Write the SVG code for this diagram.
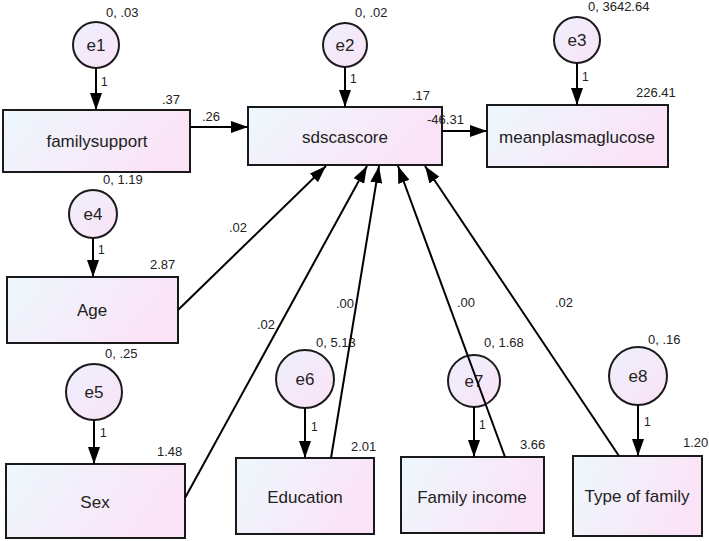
<svg xmlns="http://www.w3.org/2000/svg" width="709" height="541" viewBox="0 0 709 541">
<defs>
<linearGradient id="gb" x1="0" y1="0" x2="1" y2="0.3">
<stop offset="0" stop-color="#edf8fd"/>
<stop offset="1" stop-color="#fbe3f7"/>
</linearGradient>
<linearGradient id="gc" x1="0" y1="0" x2="1" y2="1">
<stop offset="0" stop-color="#eeeffd"/>
<stop offset="1" stop-color="#fae3f6"/>
</linearGradient>
<marker id="ah" markerUnits="userSpaceOnUse" markerWidth="18" markerHeight="12" refX="17" refY="6" orient="auto">
<path d="M0,0 L17,6 L0,12 Z" fill="#000"/>
</marker>
</defs>
<style>
.box{fill:url(#gb);stroke:#1a1a1a;stroke-width:2}
.cir{fill:url(#gc);stroke:#1a1a1a;stroke-width:2}
.lbl{font-family:"Liberation Sans",Arial,sans-serif;font-size:17px;fill:#222;text-anchor:middle}
.num{font-family:"Liberation Sans",Arial,sans-serif;font-size:13px;fill:#222}
.one{font-family:"Liberation Sans",Arial,sans-serif;font-size:12px;fill:#222}
.con line{stroke:#000;stroke-width:2;marker-end:url(#ah)}
</style>
<rect width="709" height="541" fill="#fff"/>

<g id="familysupport"><rect class="box" x="3" y="110" width="187" height="62"/><text class="lbl" x="97" y="147">familysupport</text><text class="num" x="162" y="104">.37</text></g>
<g id="sdscascore"><rect class="box" x="248" y="107" width="194" height="58"/><text class="lbl" x="345" y="143">sdscascore</text><text class="num" x="412" y="100">.17</text></g>
<g id="meanplasmaglucose"><rect class="box" x="487" y="105" width="181" height="62"/><text class="lbl" x="577" y="143">meanplasmaglucose</text><text class="num" x="636" y="97">226.41</text></g>
<g id="Age"><rect class="box" x="7" y="277" width="171" height="66"/><text class="lbl" x="92" y="316">Age</text><text class="num" x="150" y="269">2.87</text></g>
<g id="Sex"><rect class="box" x="6" y="464" width="179" height="74"/><text class="lbl" x="95" y="508">Sex</text><text class="num" x="157" y="456">1.48</text></g>
<g id="Education"><rect class="box" x="236" y="458" width="138" height="76"/><text class="lbl" x="305" y="503">Education</text><text class="num" x="351" y="451">2.01</text></g>
<g id="FamilyIncome"><rect class="box" x="401" y="457" width="143" height="76"/><text class="lbl" x="472" y="503">Family income</text><text class="num" x="520" y="449">3.66</text></g>
<g id="TypeOfFamily"><rect class="box" x="573" y="456" width="129" height="80"/><text class="lbl" x="637" y="502">Type of family</text><text class="num" x="683" y="447">1.20</text></g>

<g id="e1"><circle class="cir" cx="96" cy="45" r="23"/><text class="lbl" x="96" y="51">e1</text><text class="num" x="106" y="17">0, .03</text></g>
<g id="e2"><circle class="cir" cx="345" cy="45" r="22"/><text class="lbl" x="345" y="51">e2</text><text class="num" x="355" y="17">0, .02</text></g>
<g id="e3"><circle class="cir" cx="577" cy="40" r="23"/><text class="lbl" x="577" y="46">e3</text><text class="num" x="588" y="11">0, 3642.64</text></g>
<g id="e4"><circle class="cir" cx="93" cy="214" r="24"/><text class="lbl" x="93" y="220">e4</text><text class="num" x="103" y="184">0, 1.19</text></g>
<g id="e5"><circle class="cir" cx="94" cy="392" r="28"/><text class="lbl" x="94" y="398">e5</text><text class="num" x="105" y="358">0, .25</text></g>
<g id="e6"><circle class="cir" cx="305" cy="379" r="29"/><text class="lbl" x="305" y="385">e6</text><text class="num" x="316" y="347">0, 5.13</text></g>
<g id="e7"><circle class="cir" cx="474" cy="381" r="26"/><text class="lbl" x="474" y="387">e7</text><text class="num" x="484" y="347">0, 1.68</text></g>
<g id="e8"><circle class="cir" cx="638" cy="376" r="29"/><text class="lbl" x="638" y="382">e8</text><text class="num" x="648" y="344">0, .16</text></g>

<g id="connectors" class="con">
<line x1="96" y1="68" x2="96" y2="110"/>
<line x1="345" y1="67" x2="345" y2="107"/>
<line x1="577" y1="63" x2="577" y2="105"/>
<line x1="93" y1="238" x2="93" y2="277"/>
<line x1="94" y1="420" x2="94" y2="464"/>
<line x1="305" y1="408" x2="305" y2="458"/>
<line x1="474" y1="407" x2="474" y2="457"/>
<line x1="638" y1="405" x2="638" y2="456"/>
<line x1="190" y1="127" x2="248" y2="127"/>
<line x1="442" y1="131" x2="487" y2="131"/>
<line x1="178" y1="310" x2="326" y2="166"/>
<line x1="185" y1="498" x2="367" y2="166"/>
<line x1="331" y1="458" x2="379" y2="166"/>
<line x1="505" y1="457" x2="398" y2="166"/>
<line x1="619" y1="456" x2="425" y2="166"/>
</g>
<g id="connector-labels">
<text class="one" x="101" y="86">1</text>
<text class="one" x="350" y="83">1</text>
<text class="one" x="582" y="81">1</text>
<text class="one" x="98" y="254">1</text>
<text class="one" x="100" y="437">1</text>
<text class="one" x="311" y="431">1</text>
<text class="one" x="479" y="429">1</text>
<text class="one" x="644" y="426">1</text>
<text class="num" x="202" y="121">.26</text>
<text class="num" x="427" y="124">-46.31</text>
<text class="num" x="229" y="232">.02</text>
<text class="num" x="257" y="329">.02</text>
<text class="num" x="336" y="308">.00</text>
<text class="num" x="457" y="307">.00</text>
<text class="num" x="555" y="307">.02</text>
</g>
</svg>
